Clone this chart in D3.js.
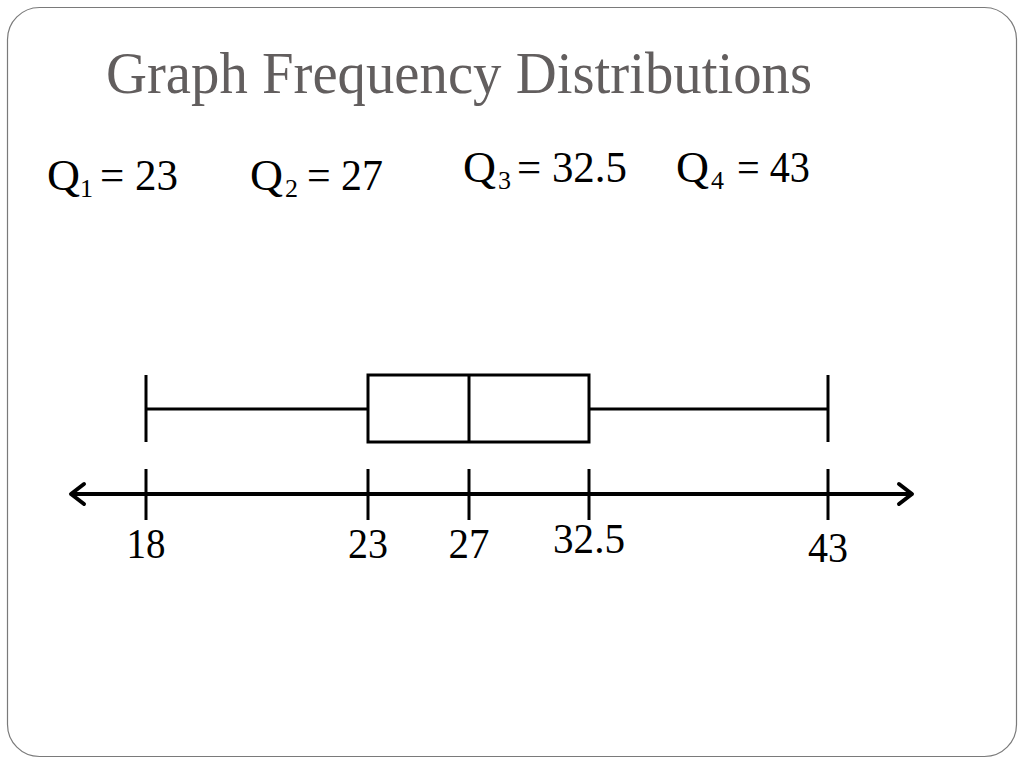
<!DOCTYPE html>
<html><head><meta charset="utf-8">
<script src="https://cdn.jsdelivr.net/npm/d3@7"></script>
<style>html,body{margin:0;padding:0;background:#fff;}svg{display:block;}</style>
</head><body>
<script>
const title = "Graph Frequency Distributions";
const quartileSubs = ["1","2","3","4"];
const quartileValues = [23, 27, 32.5, 43];
const minValue = 18;
const tickValues = [18, 23, 27, 32.5, 43];
const tickLabels = ["18","23","27","32.5","43"];

const W = 1024, H = 768;
const svg = d3.select("body").append("svg").attr("width", W).attr("height", H);
const serif = "'Liberation Serif','Times New Roman',serif";

// slide frame
svg.append("rect").attr("x", 7.5).attr("y", 7.5).attr("width", 1009).attr("height", 749)
  .attr("rx", 32).attr("ry", 32).attr("fill", "#fff").attr("stroke", "#7a7a7a").attr("stroke-width", 1.2);

// title
svg.append("text").attr("x", 106).attr("y", 93).attr("font-family", serif).attr("font-size", 60)
  .attr("fill", "#625e5e").attr("textLength", 706).attr("lengthAdjust", "spacingAndGlyphs").text(title);

// quartile labels: [Q x, sub x, "=" x, text length, baseline]
const qLayout = [
  {q:47,  s:80,  e:100, w:78,  y:190},
  {q:250, s:285, e:307, w:76,  y:190},
  {q:463, s:498, e:517, w:110, y:182},
  {q:676, s:711, e:737, w:73,  y:182}
];
quartileValues.forEach((v, i) => {
  const L = qLayout[i];
  svg.append("text").attr("x", L.q).attr("y", L.y).attr("font-family", serif).attr("font-size", 44)
    .attr("textLength", 33).attr("lengthAdjust", "spacingAndGlyphs").text("Q");
  svg.append("text").attr("x", L.s).attr("y", L.y + 7).attr("font-family", serif).attr("font-size", 26)
    .text(quartileSubs[i]);
  svg.append("text").attr("x", L.e).attr("y", L.y).attr("font-family", serif).attr("font-size", 44)
    .attr("textLength", L.w).attr("lengthAdjust", "spacingAndGlyphs").text("= " + v);
});

// non-uniform number line scale (as drawn in the reference)
const x = d3.scaleLinear().domain(tickValues).range([146, 368, 469, 589, 828]);

const g = svg.append("g");
const yMid = 409, yTop = 375, yBot = 442, yAxis = 494;

// whiskers
g.append("line").attr("x1", x(minValue)).attr("x2", x(quartileValues[0])).attr("y1", yMid).attr("y2", yMid)
  .attr("stroke", "#000").attr("stroke-width", 3);
g.append("line").attr("x1", x(quartileValues[2])).attr("x2", x(quartileValues[3])).attr("y1", yMid).attr("y2", yMid)
  .attr("stroke", "#000").attr("stroke-width", 3);
[minValue, quartileValues[3]].forEach(v => {
  g.append("line").attr("x1", x(v)).attr("x2", x(v)).attr("y1", yTop).attr("y2", yBot)
    .attr("stroke", "#000").attr("stroke-width", 3);
});
// box
g.append("rect").attr("x", x(quartileValues[0])).attr("y", yTop)
  .attr("width", x(quartileValues[2]) - x(quartileValues[0])).attr("height", yBot - yTop)
  .attr("fill", "none").attr("stroke", "#000").attr("stroke-width", 3);
g.append("line").attr("x1", x(quartileValues[1])).attr("x2", x(quartileValues[1])).attr("y1", yTop).attr("y2", yBot)
  .attr("stroke", "#000").attr("stroke-width", 3);

// number line
g.append("line").attr("x1", 72).attr("x2", 911).attr("y1", yAxis).attr("y2", yAxis)
  .attr("stroke", "#000").attr("stroke-width", 4);
g.append("path").attr("d", `M84,${yAxis-10} L71,${yAxis} L84,${yAxis+10}`)
  .attr("fill", "none").attr("stroke", "#000").attr("stroke-width", 4).attr("stroke-linecap", "round").attr("stroke-linejoin", "round");
g.append("path").attr("d", `M899,${yAxis-10} L912,${yAxis} L899,${yAxis+10}`)
  .attr("fill", "none").attr("stroke", "#000").attr("stroke-width", 4).attr("stroke-linecap", "round").attr("stroke-linejoin", "round");

const labelDy = [0, 0, 0, -5, 4];
const labelW = [39, 40, 41, 72, 40];
tickValues.forEach((v, i) => {
  g.append("line").attr("x1", x(v)).attr("x2", x(v)).attr("y1", 469).attr("y2", 520)
    .attr("stroke", "#000").attr("stroke-width", 3);
  g.append("text").attr("x", x(v) - labelW[i] / 2).attr("y", 558 + labelDy[i])
    .attr("font-family", serif).attr("font-size", 43).attr("fill", "#000")
    .attr("textLength", labelW[i]).attr("lengthAdjust", "spacingAndGlyphs").text(tickLabels[i]);
});
</script>
</body></html>
